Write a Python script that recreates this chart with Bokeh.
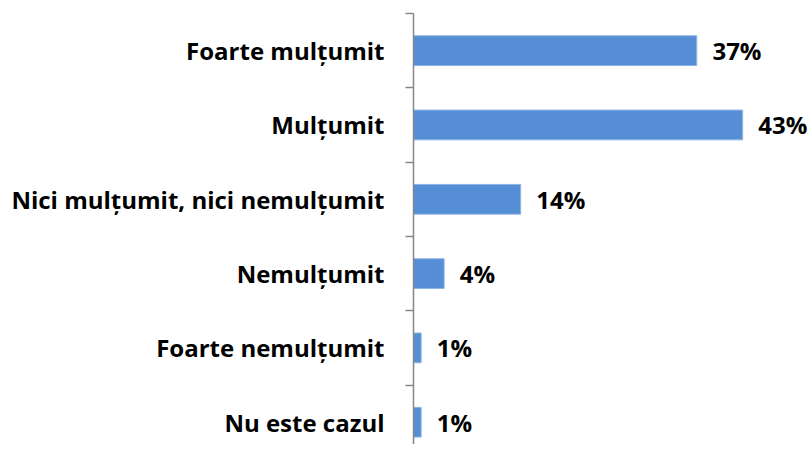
from bokeh.plotting import figure
from bokeh.models import Range1d, FixedTicker, ColumnDataSource
from bokeh.core.properties import value
from bokeh.embed import file_html
from bokeh.resources import INLINE

categories = ["Foarte mulțumit", "Mulțumit", "Nici mulțumit, nici nemulțumit",
              "Nemulțumit", "Foarte nemulțumit", "Nu este cazul"]
values = [37, 43, 14, 4, 1, 1]
value_labels = ["37%", "43%", "14%", "4%", "1%", "1%"]

FONT = "Open Sans"
FSIZE = "24px"
pos = [i + 0.5 for i in range(len(categories))]

src = ColumnDataSource(dict(y=pos, v=values, lab=value_labels,
                            tx=[v + 2.05 for v in values]))

p = figure(width=808, height=444, output_backend="svg", toolbar_location=None,
           x_range=Range1d(0, 51.6), y_range=Range1d(5.8, 0),
           min_border_left=413, min_border_right=0, min_border_top=13,
           min_border_bottom=0)
p.outline_line_color = None
p.xgrid.visible = False
p.ygrid.visible = False
p.xaxis.visible = False

p.hbar(y="y", right="v", left=0, height=0.4, source=src,
       fill_color="#558ED5", line_color="#8DB4E2", line_width=1)
p.text(x="tx", y="y", text="lab", source=src, text_font=value(FONT),
       text_font_style="bold", text_font_size=FSIZE, text_color="#000000",
       text_baseline="middle", text_align="left")

ya = p.yaxis[0]
ya.ticker = FixedTicker(ticks=pos, minor_ticks=list(range(len(categories) + 1)))
ya.major_label_overrides = {p_: c for p_, c in zip(pos, categories)}
ya.major_tick_in = 0
ya.major_tick_out = 0
ya.minor_tick_in = 0
ya.minor_tick_out = 8
ya.minor_tick_line_color = "#868686"
ya.minor_tick_line_width = 1.5
ya.axis_line_color = "#868686"
ya.axis_line_width = 1.5
ya.major_label_standoff = 21
ya.major_label_text_font = FONT
ya.major_label_text_font_style = "bold"
ya.major_label_text_font_size = FSIZE
ya.major_label_text_color = "#000000"

open("out.html", "w").write(file_html(p, INLINE))
